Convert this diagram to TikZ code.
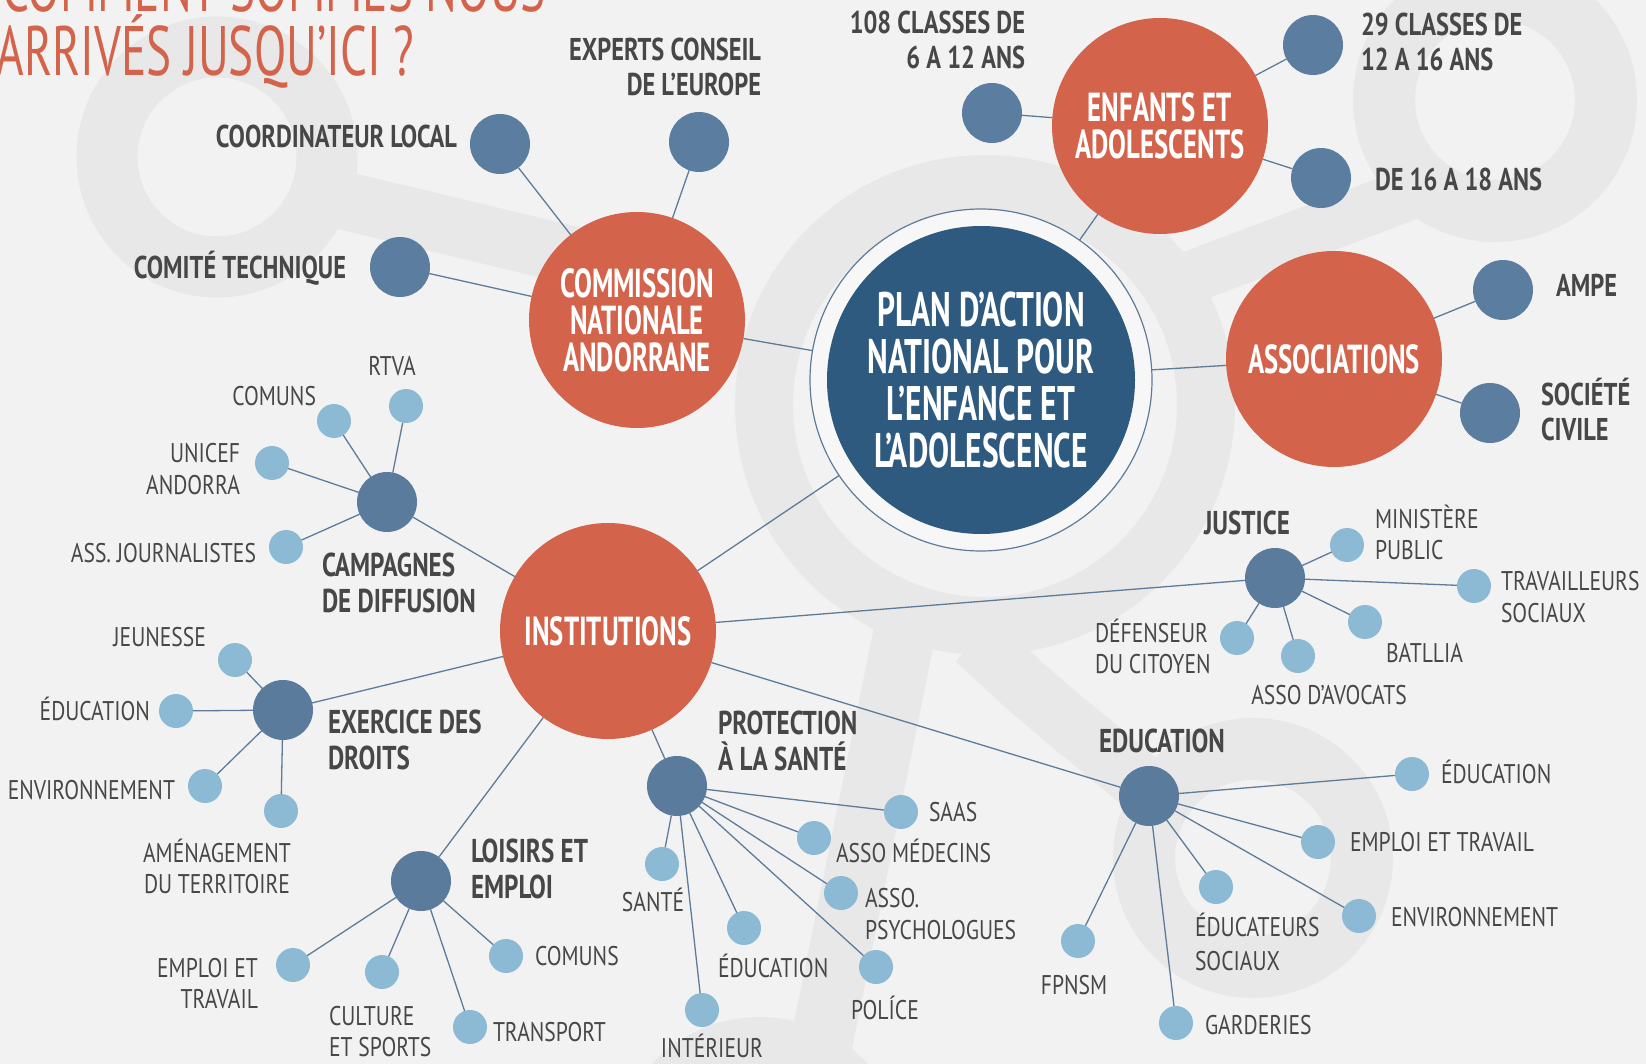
\documentclass[tikz,border=0pt]{standalone}
\usepackage{fontspec}
\setmainfont{PT Sans}
\newfontfamily\fttitle{PT Sans}[FakeStretch=0.675]
\newfontfamily\ftplan{PT Sans}[FakeStretch=0.65]
\newfontfamily\fttheme{PT Sans}[FakeStretch=0.66]
\newfontfamily\fttop{PT Sans}[FakeStretch=0.775]
\newfontfamily\fthub{PT Sans}[FakeStretch=0.76]
\newfontfamily\ftleaf{PT Sans}[FakeStretch=0.8]

\definecolor{bgc}{HTML}{F2F2F2}
\definecolor{ghostc}{HTML}{E8E8E8}
\definecolor{orangec}{HTML}{D3644B}
\definecolor{planc}{HTML}{2E5A80}
\definecolor{midc}{HTML}{5B7DA0}
\definecolor{hubc}{HTML}{5A7B9C}
\definecolor{leafc}{HTML}{8CBAD5}
\definecolor{linkc}{HTML}{5E7C99}
\definecolor{txtc}{HTML}{474747}
\definecolor{ringc}{HTML}{F7F7F7}

\tikzset{
  ghostband/.style={draw=ghostc, line width=#1},
  theme/.style={circle, fill=orangec, minimum size=216pt, text=white,
    font=\fttheme\bfseries\fontsize{40.5}{37}\selectfont, align=center},
  member/.style={circle, fill=midc, minimum size=60pt},
  hub/.style={circle, fill=hubc, minimum size=60pt},
  leaf/.style={circle, fill=leafc, minimum size=34pt},
  link/.style={draw=linkc, line width=1.3pt},
  toplbl/.style={text=txtc, font=\fttop\bfseries\fontsize{31.5}{35}\selectfont},
  hublbl/.style={text=txtc, font=\fthub\bfseries\fontsize{33}{36}\selectfont},
  leaflbl/.style={text=txtc, font=\ftleaf\fontsize{27}{31.5}\selectfont},
  titlelbl/.style={text=orangec, font=\fttitle\fontsize{70}{64}\selectfont},
}

\begin{document}
\begin{tikzpicture}[x=1pt, y=-1pt, every node/.style={inner sep=0pt, outer sep=0pt}]
\useasboundingbox (0,0) rectangle (1646,1064);
\fill[bgc] (0,0) rectangle (1646,1064);

% faint watermark shapes
\draw[ghostband=61] (217,157) circle (110);
\draw[ghostband=58] (300,190) -- (600,262);
\draw[ghostband=58] (985,405) circle (221);
\draw[ghostband=62] (905,630) -- (812,1090);
\draw[ghostband=58] (975,640) .. controls (1040,700) .. (1150,790);
\draw[ghostband=62] (1253,858) circle (109);
\draw[ghostband=62] (1495,100) circle (111);
\draw[ghostband=52] (1170,285) -- (1420,190);
\draw[ghostband=60] (760,1165) circle (118);

% title (multi-line nodes sit on the baseline of their last line)
\node[titlelbl, anchor=base east] (title-1) at (546,12) {COMMENT SOMMES NOUS};
\node[titlelbl, anchor=base west] (title-2) at (-3,76) {ARRIVÉS JUSQU’ICI ?};

% central plan
\node[circle, minimum size=342pt, fill=ringc, draw=linkc, line width=1.2pt] (plan) at (981,380) {};
\node[circle, minimum size=308pt, fill=planc, text=white, align=center,
  font=\ftplan\bfseries\fontsize{48.5}{46.7}\selectfont] (plancore) at (plan.center)
  {PLAN D’ACTION\\NATIONAL POUR\\L’ENFANCE ET\\L’ADOLESCENCE};

% themes
\node[theme] (comm) at (637,320) {COMMISSION\\NATIONALE\\ANDORRANE};
\node[theme] (enf) at (1160,126) {ENFANTS ET\\ADOLESCENTS};
\node[theme] (assoc) at (1334,359) {ASSOCIATIONS};
\node[theme] (inst) at (608,631) {INSTITUTIONS};

% members of the first ring
\node[member] (coord) at (500,144) {};
\node[member] (experts) at (699,142) {};
\node[member] (comite) at (400,267) {};
\node[member] (c108) at (992,113) {};
\node[member] (c29) at (1313,45) {};
\node[member] (c1618) at (1321,178) {};
\node[member] (ampe) at (1503,290) {};
\node[member] (societe) at (1490,413) {};

\node[toplbl, anchor=base east] (coord-l) at (457,148) {COORDINATEUR LOCAL};
\node[toplbl, anchor=base east, align=right] (experts-l) at (761,96) {EXPERTS CONSEIL\\DE L’EUROPE};
\node[toplbl, anchor=base east] (comite-l) at (346,279) {COMITÉ TECHNIQUE};
\node[toplbl, anchor=base east, align=right] (c108-l) at (1025,68.5) {108 CLASSES DE\\6 A 12 ANS};
\node[toplbl, anchor=base west, align=left] (c29-l) at (1361,71) {29 CLASSES DE\\12 A 16 ANS};
\node[toplbl, anchor=base west] (c1618-l) at (1375,191) {DE 16 A 18 ANS};
\node[toplbl, anchor=base west] (ampe-l) at (1556,297) {AMPE};
\node[toplbl, anchor=base west, align=left] (societe-l) at (1541,440) {SOCIÉTÉ\\CIVILE};

% institution hubs
\node[hub] (camp) at (387,502) {};
\node[hub] (exer) at (283,710) {};
\node[hub] (lois) at (421,881) {};
\node[hub] (prot) at (677,786) {};
\node[hub] (just) at (1275,578) {};
\node[hub] (edu) at (1149,796) {};

\node[hublbl, anchor=base west, align=left] (camp-l) at (322,612) {CAMPAGNES\\DE DIFFUSION};
\node[hublbl, anchor=base west, align=left] (exer-l) at (328,769) {EXERCICE DES\\DROITS};
\node[hublbl, anchor=base west, align=left] (lois-l) at (471,898) {LOISIRS ET\\EMPLOI};
\node[hublbl, anchor=base west, align=left] (prot-l) at (718,770) {PROTECTION\\À LA SANTÉ};
\node[hublbl, anchor=base] (just-l) at (1247,534) {JUSTICE};
\node[hublbl, anchor=base] (edu-l) at (1162,752) {EDUCATION};

% leaves: campagnes de diffusion
\node[leaf] (ca-comuns) at (334,421) {};
\node[leaf] (ca-rtva) at (406,406) {};
\node[leaf] (ca-unicef) at (272,463) {};
\node[leaf] (ca-journ) at (286,547) {};
\node[leaflbl, anchor=base east] (ca-comuns-l) at (316,405) {COMUNS};
\node[leaflbl, anchor=base] (ca-rtva-l) at (392,376) {RTVA};
\node[leaflbl, anchor=base east, align=right] (ca-unicef-l) at (240,494) {UNICEF\\ANDORRA};
\node[leaflbl, anchor=base east] (ca-journ-l) at (256,562) {ASS. JOURNALISTES};

% leaves: exercice des droits
\node[leaf] (ex-jeun) at (235,660) {};
\node[leaf] (ex-educ) at (176,711) {};
\node[leaf] (ex-env) at (205,786) {};
\node[leaf] (ex-amen) at (281,811) {};
\node[leaflbl, anchor=base east] (ex-jeun-l) at (206,646) {JEUNESSE};
\node[leaflbl, anchor=base east] (ex-educ-l) at (150,720) {ÉDUCATION};
\node[leaflbl, anchor=base east] (ex-env-l) at (175,799) {ENVIRONNEMENT};
\node[leaflbl, anchor=base, align=center] (ex-amen-l) at (217,893.5) {AMÉNAGEMENT\\DU TERRITOIRE};

% leaves: loisirs et emploi
\node[leaf] (lo-emploi) at (293,965) {};
\node[leaf] (lo-culture) at (382,972) {};
\node[leaf] (lo-transport) at (470,1027) {};
\node[leaf] (lo-comuns) at (506,956) {};
\node[leaflbl, anchor=base east, align=right] (lo-emploi-l) at (258,1008.5) {EMPLOI ET\\TRAVAIL};
\node[leaflbl, anchor=base west, align=left] (lo-culture-l) at (329,1056.5) {CULTURE\\ET SPORTS};
\node[leaflbl, anchor=base west] (lo-transport-l) at (493,1041) {TRANSPORT};
\node[leaflbl, anchor=base west] (lo-comuns-l) at (535,965) {COMUNS};

% leaves: protection a la sante
\node[leaf] (pr-sante) at (662,864) {};
\node[leaf] (pr-interieur) at (702,1010) {};
\node[leaf] (pr-educ) at (744,928) {};
\node[leaf] (pr-police) at (876,967) {};
\node[leaf] (pr-psy) at (841,893) {};
\node[leaf] (pr-med) at (814,838) {};
\node[leaf] (pr-saas) at (901,812) {};
\node[leaflbl, anchor=base] (pr-sante-l) at (653,911) {SANTÉ};
\node[leaflbl, anchor=base] (pr-interieur-l) at (712,1057) {INTÉRIEUR};
\node[leaflbl, anchor=base west] (pr-educ-l) at (718,977) {ÉDUCATION};
\node[leaflbl, anchor=base west] (pr-police-l) at (851,1019) {POLÍCE};
\node[leaflbl, anchor=base west, align=left] (pr-psy-l) at (865,939) {ASSO.\\PSYCHOLOGUES};
\node[leaflbl, anchor=base west] (pr-med-l) at (836,862) {ASSO MÉDECINS};
\node[leaflbl, anchor=base west] (pr-saas-l) at (929,821.5) {SAAS};

% leaves: justice
\node[leaf] (ju-min) at (1347,545) {};
\node[leaf] (ju-trav) at (1474,586) {};
\node[leaf] (ju-batllia) at (1365,622) {};
\node[leaf] (ju-avocats) at (1298,656) {};
\node[leaf] (ju-def) at (1237,638) {};
\node[leaflbl, anchor=base west, align=left] (ju-min-l) at (1375,559.5) {MINISTÈRE\\PUBLIC};
\node[leaflbl, anchor=base west, align=left] (ju-trav-l) at (1501,622) {TRAVAILLEURS\\SOCIAUX};
\node[leaflbl, anchor=base west] (ju-batllia-l) at (1386,662) {BATLLIA};
\node[leaflbl, anchor=base] (ju-avocats-l) at (1329,704) {ASSO D’AVOCATS};
\node[leaflbl, anchor=base west, align=left] (ju-def-l) at (1095,673.5) {DÉFENSEUR\\DU CITOYEN};

% leaves: education
\node[leaf] (ed-educ) at (1412,774) {};
\node[leaf] (ed-emploi) at (1318,842) {};
\node[leaf] (ed-env) at (1359,916) {};
\node[leaf] (ed-educsoc) at (1216,887) {};
\node[leaf] (ed-fpnsm) at (1078,941) {};
\node[leaf] (ed-garderies) at (1176,1023) {};
\node[leaflbl, anchor=base west] (ed-educ-l) at (1441,783) {ÉDUCATION};
\node[leaflbl, anchor=base west] (ed-emploi-l) at (1350,851) {EMPLOI ET TRAVAIL};
\node[leaflbl, anchor=base west] (ed-env-l) at (1391,926) {ENVIRONNEMENT};
\node[leaflbl, anchor=base west, align=left, font=\ftleaf\fontsize{27}{34.5}\selectfont] (ed-educsoc-l) at (1195,970.5) {ÉDUCATEURS\\SOCIAUX};
\node[leaflbl, anchor=base] (ed-fpnsm-l) at (1074,994) {FPNSM};
\node[leaflbl, anchor=base west] (ed-garderies-l) at (1205,1034) {GARDERIES};

% connectors
\foreach \a/\b in {plan/comm, plan/enf, plan/assoc, plan/inst,
  comm/coord, comm/experts, comm/comite,
  enf/c108, enf/c29, enf/c1618,
  assoc/ampe, assoc/societe,
  inst/camp, inst/exer, inst/lois, inst/prot, inst/just, inst/edu,
  camp/ca-comuns, camp/ca-rtva, camp/ca-unicef, camp/ca-journ,
  exer/ex-jeun, exer/ex-educ, exer/ex-env, exer/ex-amen,
  lois/lo-emploi, lois/lo-culture, lois/lo-transport, lois/lo-comuns,
  prot/pr-sante, prot/pr-interieur, prot/pr-educ, prot/pr-police, prot/pr-psy, prot/pr-med, prot/pr-saas,
  just/ju-min, just/ju-trav, just/ju-batllia, just/ju-avocats, just/ju-def,
  edu/ed-educ, edu/ed-emploi, edu/ed-env, edu/ed-educsoc, edu/ed-fpnsm, edu/ed-garderies}
  \draw[link] (\a) -- (\b);
\end{tikzpicture}
\end{document}
